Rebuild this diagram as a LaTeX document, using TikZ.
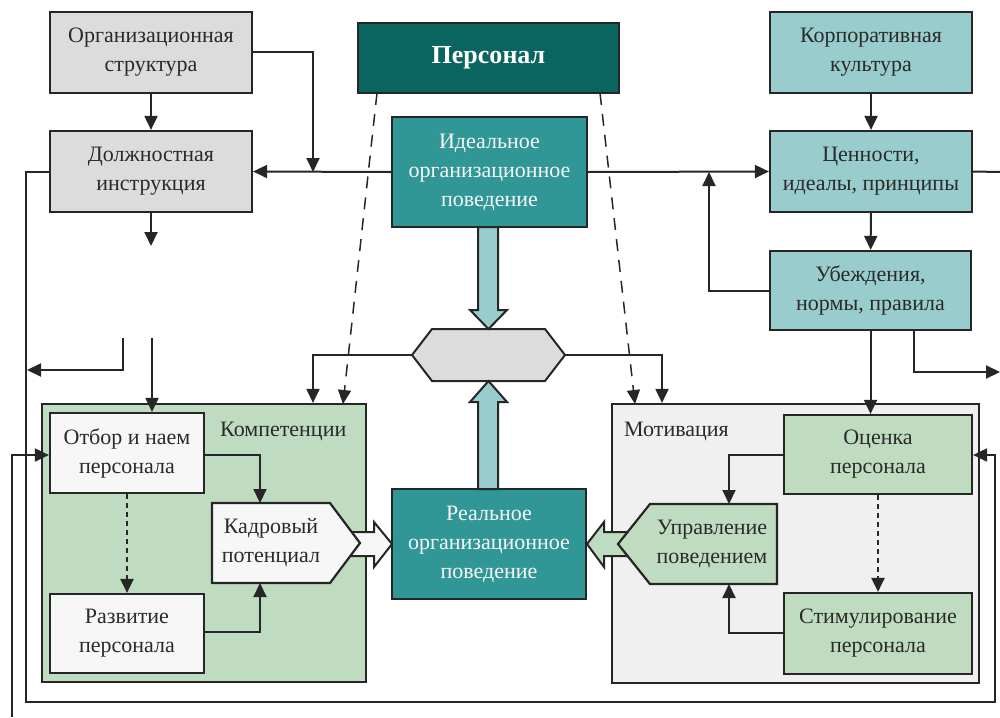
\documentclass[tikz,border=0pt]{standalone}
\usepackage{fontspec}
\setmainfont{Liberation Serif}
\usetikzlibrary{arrows.meta}
\definecolor{lc}{HTML}{262626}
\definecolor{tc}{HTML}{2A2A2A}
\definecolor{gry}{HTML}{DCDCDC}
\definecolor{ltl}{HTML}{99CCCC}
\definecolor{tl}{HTML}{309696}
\definecolor{dtl}{HTML}{0A6460}
\definecolor{grn}{HTML}{C0DCC0}
\definecolor{mot}{HTML}{F0F0F0}
\definecolor{wht}{HTML}{F7F7F7}
\newcommand\myfs{\fontsize{22}{29}\selectfont}
\begin{document}
\begin{tikzpicture}[x=1pt,y=-1pt,
  box/.style={draw=lc, line width=2.2pt, align=center, inner sep=0pt, text=tc, font=\myfs},
  lbl/.style={align=center, inner sep=0pt, text=tc, font=\myfs},
  conn/.style={draw=lc, line width=2pt},
  arr/.style={conn, -{Triangle[length=14pt,width=13pt]}},
  dsh/.style={draw=lc, line width=1.5pt, dash pattern=on 12pt off 9pt, -{Triangle[length=14pt,width=13pt]}},
  dot/.style={draw=lc, line width=2.2pt, dash pattern=on 5pt off 4pt, -{Triangle[length=14pt,width=13pt]}},
  fat/.style={draw=lc, line width=2pt}]
\useasboundingbox (0,0) rectangle (1000,717);
% top left column
\node[box, fill=gry, minimum width=202pt, minimum height=81pt] (org) at (151,52.5) {Организационная\\структура};
\node[box, fill=gry, minimum width=202pt, minimum height=81pt] (dolzh) at (151,171.5) {Должностная\\инструкция};
% centre
\node[box, fill=dtl, text=white, font=\fontsize{26}{30}\selectfont\bfseries, minimum width=261pt, minimum height=70pt] (pers) at (488.5,58) {Персонал};
\node[box, fill=tl, text=wht, minimum width=195pt, minimum height=110pt] (ideal) at (489.5,172) {Идеальное\\организационное\\поведение};
% right column
\node[box, fill=ltl, minimum width=202pt, minimum height=81pt] (corp) at (871,52.5) {Корпоративная\\культура};
\node[box, fill=ltl, minimum width=202pt, minimum height=81pt] (cenn) at (871,171.5) {Ценности,\\идеалы, принципы};
\node[box, fill=ltl, minimum width=201pt, minimum height=79pt] (ubezh) at (870.5,290.5) {Убеждения,\\нормы, правила};
% hexagon
\draw[fat, fill=gry] (412,355) -- (432,329) -- (545,329) -- (565,355) -- (545,381) -- (432,381) -- cycle;
\node[minimum width=153pt, minimum height=52pt, inner sep=0pt] (hex) at (488.5,355) {};
% containers
\node[box, fill=grn, minimum width=324pt, minimum height=278pt] (komp) at (204,543) {};
\node[lbl, anchor=west] (kompl) at (220,431) {Компетенции};
\node[box, fill=mot, minimum width=367pt, minimum height=279pt] (motiv) at (795.5,543.5) {};
\node[lbl, anchor=west] (motivl) at (624,431) {Мотивация};
% competence inner
\node[box, fill=wht, minimum width=154pt, minimum height=80pt] (otbor) at (127,453) {Отбор и наем\\персонала};
\node[box, fill=wht, minimum width=154pt, minimum height=79pt] (razv) at (127,633.5) {Развитие\\персонала};
% real behaviour
\node[box, fill=tl, text=wht, minimum width=194pt, minimum height=110pt] (real) at (489,544) {Реальное\\организационное\\поведение};
% hollow arrows
\draw[fat, fill=wht] (350,532) -- (374,532) -- (374,522) -- (392,544) -- (374,567) -- (374,556) -- (350,556) -- cycle;
\draw[fat, fill=grn] (587,544) -- (604,522) -- (604,532) -- (630,532) -- (630,556) -- (604,556) -- (604,567) -- cycle;
% kadr pentagon
\draw[fat, line width=2.2pt, fill=wht] (212,503) -- (330,503) -- (360,543) -- (330,583) -- (212,583) -- cycle;
\node[lbl] (kadr) at (271,543) {Кадровый\\потенциал};
\coordinate (kadrT) at (260,503);
\coordinate (kadrB) at (260,583);
% motivation inner
\node[box, fill=grn, minimum width=188pt, minimum height=79pt] (ocenka) at (878,454.5) {Оценка\\персонала};
\node[box, fill=grn, minimum width=188pt, minimum height=81pt] (stim) at (878,633.5) {Стимулирование\\персонала};
\draw[fat, line width=2.2pt, fill=grn] (618,544) -- (650,504) -- (777,504) -- (777,584) -- (650,584) -- cycle;
\node[lbl] (uprav) at (712,544) {Управление\\поведением};
\coordinate (upravT) at (729,504);
\coordinate (upravB) at (729,584);
% fat vertical arrows
\draw[fat, fill=ltl] (478,227) -- (498,227) -- (498,310) -- (507,310) -- (488.5,329) -- (470,310) -- (478,310) -- cycle;
\draw[fat, fill=ltl] (488.5,381) -- (507,402) -- (498,402) -- (498,489) -- (478,489) -- (478,402) -- (470,402) -- cycle;
% coordinates
\coordinate (j1) at (313,172);
\coordinate (j2) at (709,172);
\coordinate (rE) at (1000,172);
\coordinate (rE2) at (1000,372);
\coordinate (d1) at (151,246);
\coordinate (d2) at (152,338);
\coordinate (d3) at (123,338);
\coordinate (d4) at (27,370);
\coordinate (bl) at (12,717);
\coordinate (hl) at (313,355);
\coordinate (hr) at (662,355);
% connectors top
\draw[arr] (org) -- (dolzh);
\draw[arr] (org.east |- 0,52) -| (j1);
\draw[arr] (ideal.west) -- (dolzh.east);
\draw[arr] (ideal.east) -- (cenn.west);
\draw[arr] (ubezh.west) -| (j2);
\draw[arr] (corp) -- (cenn);
\draw[arr] (cenn) -- (ubezh);
\draw[conn] (cenn.east) -- (rE);
\draw[arr] (914,330) |- (rE2);
\draw[arr] (ubezh.south) -- (ubezh.south |- ocenka.north);
\draw[arr] (dolzh.south) -- (d1);
\draw[arr] (d2) -- (d2 |- otbor.north);
\draw[arr] (d3) |- (d4);
% outer loops
\draw[arr] (dolzh.west) -| (26,702) -| (995,455) -- (ocenka.east |- 0,455);
\draw[arr] (bl) |- (otbor.west |- 0,455);
% hexagon connectors
\draw[arr] (hex.west) -| (hl |- komp.north);
\draw[arr] (hex.east) -| (hr |- motiv.north);
% dashed from personnel
\draw[dsh] (377,93) -- (343,404);
\draw[dsh] (600,93) -- (635,404);
% competence internals
\draw[arr] (otbor.east |- 0,455) -| (kadrT);
\draw[arr] (razv.east |- 0,632) -| (kadrB);
\draw[dot] (otbor.south) -- (razv.north);
% motivation internals
\draw[arr] (ocenka.west |- 0,455) -| (upravT);
\draw[arr] (stim.west |- 0,633) -| (upravB);
\draw[dot] (ocenka.south) -- (stim.north);
\end{tikzpicture}
\end{document}
